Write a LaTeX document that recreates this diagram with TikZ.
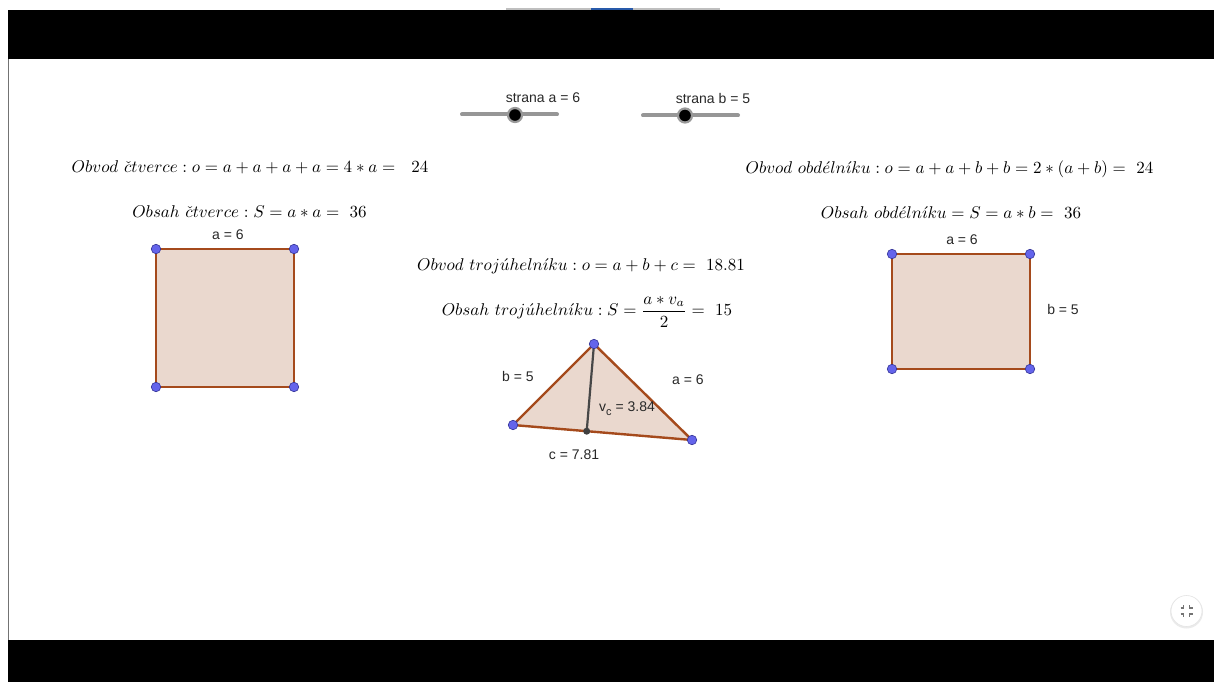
\documentclass[tikz,border=0pt]{standalone}
\usepackage{amsmath}
\usepackage{graphicx}
\usepackage{fontspec}
\newfontfamily\arial{Liberation Sans}
\definecolor{edgec}{RGB}{165,74,28}
\definecolor{polyfill}{RGB}{234,216,206}
\definecolor{ptfill}{RGB}{100,100,235}
\definecolor{ptdraw}{RGB}{50,50,150}
\definecolor{lblc}{RGB}{40,40,40}
\definecolor{sliderc}{RGB}{150,150,150}
\definecolor{progblue}{RGB}{40,90,170}
\newcommand{\fm}[1]{\scalebox{1.7}{$#1$}}
\begin{document}
\begin{tikzpicture}[x=1pt,y=-1pt,
  formula/.style={inner sep=0pt, text=black},
  lab/.style={font=\arial\fontsize{14}{16}\selectfont, text=lblc, inner sep=0pt},
  poly/.style={draw=edgec, fill=polyfill, line width=2.4pt, line join=round},
  vtx/.style={circle, fill=ptfill, draw=ptdraw, line width=0.6pt, minimum size=9.5pt, inner sep=0pt},
  foot/.style={circle, fill=black!75, minimum size=7pt, inner sep=0pt},
  sliderbar/.style={draw=sliderc, line width=4pt, line cap=round},
  knob/.style={circle, fill=black, draw=black!40, line width=2.2pt, minimum size=14pt, inner sep=0pt},
  heightline/.style={draw=black!72, line width=2.2pt}
]
\useasboundingbox (0,0) rectangle (1214,682);
\fill[white] (0,0) rectangle (1214,682);
% frame bars
\fill[black] (8,10) rectangle (1214,59);
\fill[black] (8,640) rectangle (1214,682);
\draw[black!55, line width=1.2pt] (8.6,59) -- (8.6,640);
\draw[black!25, line width=1.6pt] (506,9) -- (720,9);
\draw[progblue, line width=1.6pt] (591,9) -- (633,9);

% sliders
\node[lab] (sa) at (543,98) {strana a = 6};
\coordinate (sa1) at (462,114.5);
\coordinate (sa2) at (557,114.5);
\draw[sliderbar] (sa1) -- (sa2);
\node[knob] (ka) at (515,115) {};
\node[lab] (sb) at (713,98) {strana b = 5};
\coordinate (sb1) at (643,115.5);
\coordinate (sb2) at (738,115.5);
\draw[sliderbar] (sb1) -- (sb2);
\node[knob] (kb) at (685,115.5) {};

% formulas
\node[formula] (f1) at (250,167) {\fm{Obvod\ \check{c}tverce:o=a+a+a+a=4*a=\ \ 24}};
\node[formula] (f2) at (249.5,212) {\fm{Obsah\ \check{c}tverce:S=a*a=\ 36}};
\node[formula] (f3) at (949.5,169) {\fm{Obvod\ obd\acute{e}ln\acute{\imath}ku:o=a+a+b+b=2*(a+b)=\ 24}};
\node[formula] (f4) at (951,213) {\fm{Obsah\ obd\acute{e}ln\acute{\imath}ku=S=a*b=\ 36}};
\node[formula] (f5) at (581,266) {\fm{Obvod\ troj\acute{u}heln\acute{\imath}ku:o=a+b+c=\ 18.81}};
\node[formula] (f6) at (587,312) {\fm{Obsah\ troj\acute{u}heln\acute{\imath}ku:S=\dfrac{a*v_a}{2}=\ 15}};

% square
\coordinate (q1) at (156,249);
\coordinate (q2) at (294,249);
\coordinate (q3) at (294,387);
\coordinate (q4) at (156,387);
\draw[poly] (q1) -- (q2) -- (q3) -- (q4) -- cycle;
\foreach \p in {q1,q2,q3,q4} \node[vtx] (v\p) at (\p) {};
\node[lab] (la) at (228,235) {a = 6};

% rectangle
\coordinate (r1) at (892,254);
\coordinate (r2) at (1030,254);
\coordinate (r3) at (1030,369);
\coordinate (r4) at (892,369);
\draw[poly] (r1) -- (r2) -- (r3) -- (r4) -- cycle;
\foreach \p in {r1,r2,r3,r4} \node[vtx] (v\p) at (\p) {};
\node[lab] (ra) at (962,240) {a = 6};
\node[lab] (rb) at (1063,309) {b = 5};

% triangle
\coordinate (tA) at (513,425);
\coordinate (tB) at (692,440);
\coordinate (tC) at (594,344);
\coordinate (tF) at (586.7,431.2);
\draw[poly] (tA) -- (tB) -- (tC) -- cycle;
\draw[heightline] (tC) -- (tF);
\node[foot] (nF) at (tF) {};
\foreach \p in {tA,tB,tC} \node[vtx] (v\p) at (\p) {};
\node[lab] (tb) at (518,376) {b = 5};
\node[lab] (ta) at (688,380) {a = 6};
\node[lab] (tv) at (627,409) {v\raisebox{-4pt}{\fontsize{11}{11}\selectfont c} = 3.84};
\node[lab] (tc) at (574,455) {c = 7.81};

% exit fullscreen button
\fill[black!8] (1186.5,612) circle (16.5pt);
\node[circle, fill=white, draw=black!10, line width=0.6pt, minimum size=31pt, inner sep=0pt] (btn) at (1186.5,611) {};
\begin{scope}[black!55, line width=1.1pt]
\draw ([shift={(-6,-3)}]btn.center) -- ([shift={(-3,-3)}]btn.center) -- ([shift={(-3,-6)}]btn.center);
\draw ([shift={(6,-3)}]btn.center) -- ([shift={(3,-3)}]btn.center) -- ([shift={(3,-6)}]btn.center);
\draw ([shift={(-6,3)}]btn.center) -- ([shift={(-3,3)}]btn.center) -- ([shift={(-3,6)}]btn.center);
\draw ([shift={(6,3)}]btn.center) -- ([shift={(3,3)}]btn.center) -- ([shift={(3,6)}]btn.center);
\end{scope}
\end{tikzpicture}
\end{document}
